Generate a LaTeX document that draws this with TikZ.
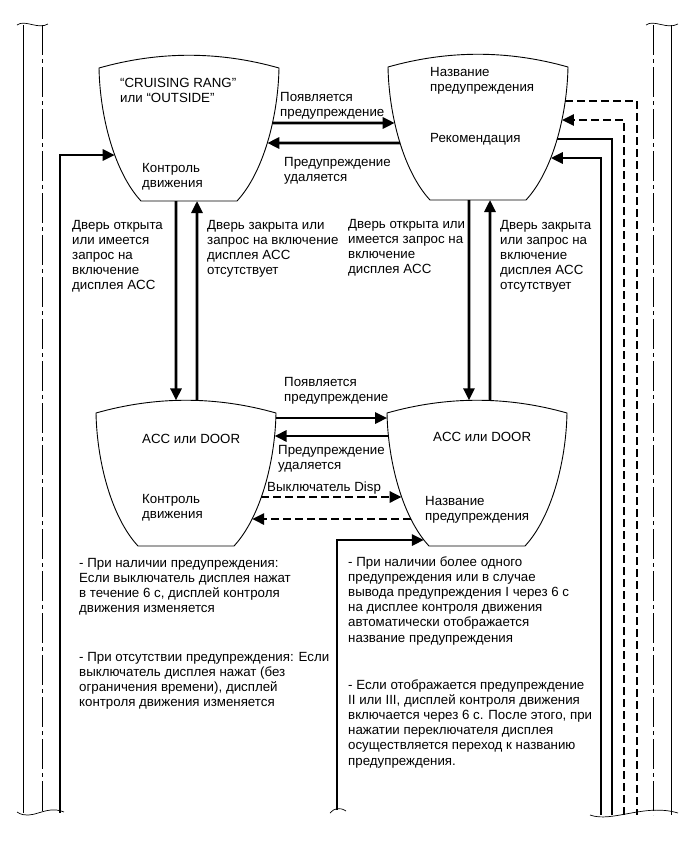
\documentclass[tikz,border=0pt]{standalone}
\usepackage{fontspec}
\setmainfont{Liberation Sans}
\usetikzlibrary{arrows.meta,intersections}

\newcommand\stshape[3]{%
  \draw[stateline, name path=#1] (#2-90,#3) .. controls (#2-30,#3-17) and (#2+30,#3-17) .. (#2+90,#3)
    .. controls (#2+89,#3+50) and (#2+74,#3+105) .. (#2+48,#3+133) -- (#2-48,#3+133)
    .. controls (#2-74,#3+105) and (#2-89,#3+50) .. (#2-90,#3) -- cycle;}
\newcommand\edgeh[5]{%
  \path[name path=tmpline] (#4,#3) -- (#5,#3);
  \path[name intersections={of=#2 and tmpline, by={#1}}];}
\newcommand\edgev[5]{%
  \path[name path=tmpline] (#3,#4) -- (#3,#5);
  \path[name intersections={of=#2 and tmpline, by={#1}}];}

\begin{document}
\begin{tikzpicture}[x=1pt,y=-1pt,
  stateline/.style={line width=0.9pt},
  conn/.style={line width=2.8pt,-{Triangle[length=12pt,width=11pt]}},
  link/.style={line width=2.8pt},
  dashconn/.style={conn,dash pattern=on 8pt off 4pt},
  dashlink/.style={link,dash pattern=on 8pt off 4pt},
  pillar/.style={line width=0.8pt},
  dashdot/.style={line width=0.8pt,dash pattern=on 30pt off 4pt on 4pt off 4pt},
  wave/.style={line width=0.7pt},
  txt/.style={font=\fontsize{13.3}{15.2}\selectfont,align=left,inner sep=0pt,anchor=base west}]

\useasboundingbox[fill=white] (0,0) rectangle (690,855);

% states
\stshape{A}{189}{68}
\stshape{B}{478}{67}
\stshape{C}{186}{413}
\stshape{D}{477}{413}

% edge points
\edgeh{A-e1}{A}{155}{40}{150}
\edgeh{A-r1}{A}{123}{220}{320}
\edgeh{A-r2}{A}{143}{220}{320}
\edgeh{B-l1}{B}{123}{340}{440}
\edgeh{B-l2}{B}{143}{340}{440}
\edgeh{B-e1}{B}{101}{520}{600}
\edgeh{B-e2}{B}{120}{520}{600}
\edgeh{B-e3}{B}{139}{520}{600}
\edgeh{B-e4}{B}{158}{520}{600}
\edgeh{C-r1}{C}{418}{220}{320}
\edgeh{C-r2}{C}{436}{220}{320}
\edgeh{C-r3}{C}{497}{220}{320}
\edgeh{C-r4}{C}{519}{220}{320}
\edgeh{D-l1}{D}{418}{340}{440}
\edgeh{D-l2}{D}{436}{340}{440}
\edgeh{D-l3}{D}{497}{340}{440}
\edgeh{D-l4}{D}{519}{340}{440}
\edgeh{D-e1}{D}{540}{340}{460}
\edgev{A-b1}{A}{176}{150}{250}
\edgev{A-b2}{A}{197}{150}{250}
\edgev{C-t1}{C}{176}{380}{460}
\edgev{C-t2}{C}{197}{380}{460}
\edgev{B-b1}{B}{469}{150}{250}
\edgev{B-b2}{B}{490}{150}{250}
\edgev{D-t1}{D}{469}{380}{460}
\edgev{D-t2}{D}{490}{380}{460}

% off-page ends
\coordinate (L1) at (60,813);
\coordinate (M1) at (337,810);
\coordinate (R1) at (601,815);
\coordinate (R2) at (612,815);
\coordinate (R3) at (624,815);
\coordinate (R4) at (637,815);

% connectors
\draw[conn] (A-r1) -- (B-l1);
\draw[conn] (B-l2) -- (A-r2);
\draw[conn] (A-b1) -- (C-t1);
\draw[conn] (C-t2) -- (A-b2);
\draw[conn] (B-b1) -- (D-t1);
\draw[conn] (D-t2) -- (B-b2);
\draw[conn] (C-r1) -- (D-l1);
\draw[conn] (D-l2) -- (C-r2);
\draw[dashconn] (C-r3) -- (D-l3);
\draw[dashconn] (D-l4) -- (C-r4);
\draw[conn,line join=miter] (L1) |- (A-e1);
\draw[conn,line join=miter] (M1) |- (D-e1);
\draw[dashlink,line join=miter] (B-e1) -| (R4);
\draw[dashconn,line join=miter] (R3) |- (B-e2);
\draw[link,line join=miter] (B-e3) -| (R2);
\draw[conn,line join=miter] (R1) |- (B-e4);

% pillars
\draw[pillar] (23,25) -- (23,813);
\draw[dashdot] (42,25) -- (42,813);
\draw[dashdot] (653,25) -- (653,815);
\draw[pillar] (671,25) -- (671,815);
\draw[wave] (17,25) .. controls (25,19) and (38,30) .. (48,24);
\draw[wave] (646,25) .. controls (654,19) and (667,30) .. (678,24);
\draw[wave] (17,812) .. controls (32,822) and (45,804) .. (64,812);
\draw[wave] (590,815) .. controls (612,823) and (645,803) .. (678,813);
\draw[wave] (330,813) .. controls (334,808) and (340,807) .. (346,811);

% texts (anchor = baseline of the last line)
\node[txt] (tA1) at (120,102.2) {“CRUISING RANG”\\или “OUTSIDE”};
\node[txt] (tA2) at (142,187.2) {Контроль\\движения};
\node[txt] (tB1) at (430,91.2) {Название\\предупреждения};
\node[txt] (tB2) at (430,142) {Рекомендация};
\node[txt] (tC1) at (142,443) {ACC или DOOR};
\node[txt] (tC2) at (142,518.2) {Контроль\\движения};
\node[txt] (tD1) at (433,441) {ACC или DOOR};
\node[txt] (tD2) at (425,520.2) {Название\\предупреждения};

\node[txt] (l1) at (280,116.2) {Появляется\\предупреждение};
\node[txt] (l2) at (284,181.2) {Предупреждение\\удаляется};
\node[txt] (l3) at (284,401.2) {Появляется\\предупреждение};
\node[txt] (l4) at (278,469.2) {Предупреждение\\удаляется};
\node[txt] (l5) at (267,491) {Выключатель Disp};

\node[txt] (d1) at (72,289.8) {Дверь открыта\\или имеется\\запрос на\\включение\\дисплея ACC};
\node[txt] (d2) at (207,274.6) {Дверь закрыта или\\запрос на включение\\дисплея ACC\\отсутствует};
\node[txt] (d3) at (348,273.6) {Дверь открыта или\\имеется запрос на\\включение\\дисплея ACC};
\node[txt] (d4) at (500,289.8) {Дверь закрыта\\или запрос на\\включение\\дисплея ACC\\отсутствует};

\node[txt] (n1) at (79,612.6) {- При наличии предупреждения:\\Если выключатель дисплея нажат\\в течение 6 с, дисплей контроля\\движения изменяется};
\node[txt] (n2) at (79,706.6) {- При отсутствии предупреждения: Если\\выключатель дисплея нажат (без\\ограничения времени), дисплей\\контроля движения изменяется};
\node[txt] (n3) at (348,642) {- При наличии более одного\\предупреждения или в случае\\вывода предупреждения I через 6 с\\на дисплее контроля движения\\автоматически отображается\\название предупреждения};
\node[txt] (n4) at (348,765) {- Если отображается предупреждение\\II или III, дисплей контроля движения\\включается через 6 с. После этого, при\\нажатии переключателя дисплея\\осуществляется переход к названию\\предупреждения.};
\end{tikzpicture}
\end{document}
